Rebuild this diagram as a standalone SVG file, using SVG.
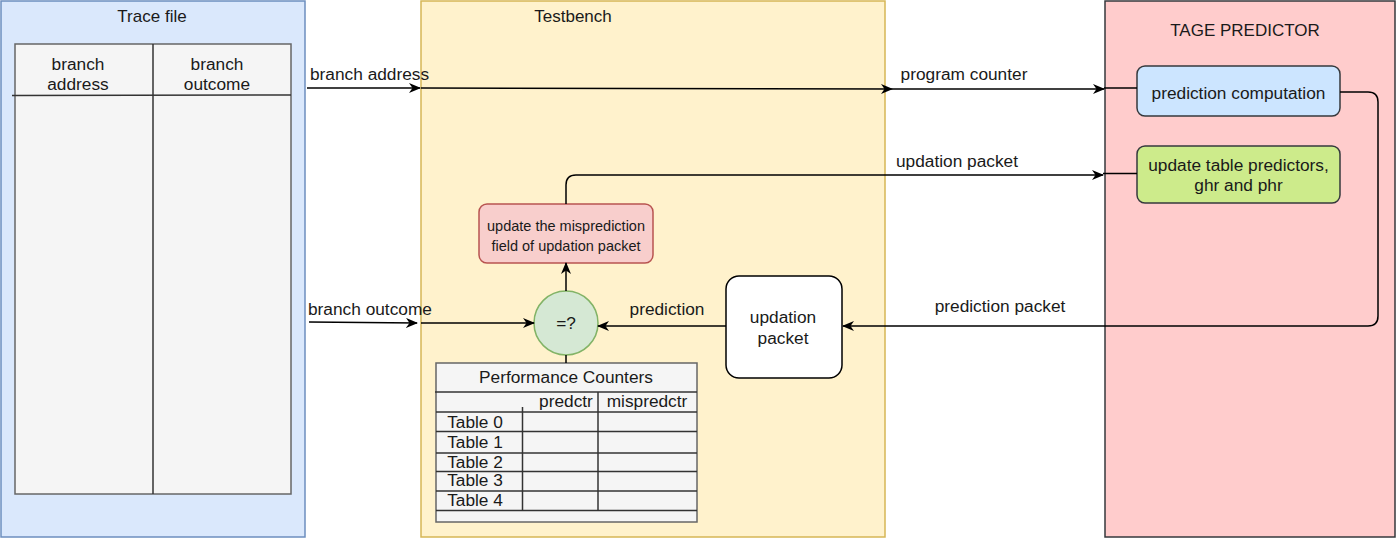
<svg xmlns="http://www.w3.org/2000/svg" width="1397" height="538" viewBox="0 0 1397 538">
<style>
text{font-family:"Liberation Sans",Arial,sans-serif;font-size:17.3px;fill:#1a1a1a}
.c{text-anchor:middle}
.l{text-anchor:start}
.s{font-size:14.5px}
.t{font-size:17px}
.ln{stroke:#000;stroke-width:1.5;fill:none}
.tl{stroke:#333;stroke-width:1.5;fill:none}
</style>
<defs>
<marker id="a" viewBox="0 0 12 10" refX="11" refY="5" markerWidth="12" markerHeight="10" markerUnits="userSpaceOnUse" orient="auto">
<path d="M0,0 L12,5 L0,10 L3.5,5 Z" fill="#000"/>
</marker>
</defs>
<g id="trace">
<rect x="1" y="1" width="304" height="536" fill="#dae8fc" stroke="#6c8ebf" stroke-width="1.5"/>
<text class="c t" x="152" y="22">Trace file</text>
<rect x="15" y="44" width="276" height="450" fill="#f5f5f5" stroke="#666" stroke-width="1.5"/>
<line class="tl" x1="153" y1="44" x2="153" y2="494"/>
<line class="tl" x1="12" y1="95.5" x2="291" y2="95"/>
<text class="c" x="78" y="70">branch</text>
<text class="c" x="78" y="90">address</text>
<text class="c" x="217" y="70">branch</text>
<text class="c" x="217" y="90">outcome</text>
</g>
<g id="testbench">
<rect x="421" y="1" width="464" height="536" fill="#fff2cc" stroke="#d6b656" stroke-width="1.5"/>
<text class="c t" x="573" y="22">Testbench</text>
</g>
<g id="tage">
<rect x="1105" y="1" width="290" height="536" fill="#ffcccc" stroke="#36393d" stroke-width="1.5"/>
<text class="c t" x="1245" y="36">TAGE PREDICTOR</text>
</g>
<g id="predcomp">
<rect x="1137" y="66" width="203" height="50" rx="8" fill="#cce5ff" stroke="#36393d" stroke-width="1.5"/>
<text class="c" x="1238.5" y="99">prediction computation</text>
</g>
<g id="updtable">
<rect x="1137" y="146" width="203" height="57" rx="8" fill="#cdeb8b" stroke="#36393d" stroke-width="1.5"/>
<text class="c" x="1238.5" y="171">update table predictors,</text>
<text class="c" x="1238.5" y="191">ghr and phr</text>
</g>
<g id="mispred">
<rect x="479" y="204" width="174" height="59" rx="8" fill="#f8cecc" stroke="#b85450" stroke-width="1.5"/>
<text class="c s" x="566" y="231">update the misprediction</text>
<text class="c s" x="566" y="251">field of updation packet</text>
</g>
<g id="compare">
<circle cx="566" cy="323" r="32" fill="#d5e8d4" stroke="#82b366" stroke-width="1.5"/>
<text class="c" x="566" y="329">=?</text>
</g>
<g id="updpacket">
<rect x="726" y="276" width="116" height="102" rx="13" fill="#fff" stroke="#000" stroke-width="1.5"/>
<text class="c" x="783" y="323">updation</text>
<text class="c" x="783" y="344">packet</text>
</g>
<g id="perfcounters">
<rect x="436" y="363" width="261" height="159" fill="#f5f5f5" stroke="#666" stroke-width="1.5"/>
<text class="c" x="566" y="383">Performance Counters</text>
<line class="tl" x1="435" y1="392" x2="697" y2="392"/>
<line class="tl" x1="436" y1="412" x2="697" y2="412"/>
<line class="tl" x1="436" y1="431.5" x2="697" y2="431.5"/>
<line class="tl" x1="436" y1="453" x2="697" y2="453"/>
<line class="tl" x1="436" y1="471.5" x2="697" y2="471.5"/>
<line class="tl" x1="436" y1="491" x2="697" y2="491"/>
<line class="tl" x1="436" y1="510.5" x2="697" y2="510.5"/>
<line class="tl" x1="522.5" y1="407" x2="522.5" y2="510.5"/>
<line class="tl" x1="598" y1="392" x2="598" y2="510.5"/>
<text class="c" x="566" y="407">predctr</text>
<text class="c" x="647" y="407">mispredctr</text>
<text class="c" x="475" y="428">Table 0</text>
<text class="c" x="475" y="448">Table 1</text>
<text class="c" x="475" y="468">Table 2</text>
<text class="c" x="475" y="486">Table 3</text>
<text class="c" x="475" y="506">Table 4</text>
</g>
<g id="connectors">
<line class="ln" x1="307" y1="88" x2="420" y2="88" marker-end="url(#a)"/>
<line class="ln" x1="421" y1="88" x2="892" y2="89" marker-end="url(#a)"/>
<line class="ln" x1="892" y1="89" x2="1104" y2="89" marker-end="url(#a)"/>
<line class="ln" x1="1104" y1="88" x2="1137" y2="88"/>
<path class="ln" d="M566,204 V185 Q566,175 576,175 H1103" marker-end="url(#a)"/>
<line class="ln" x1="1103" y1="173.5" x2="1137" y2="173.5"/>
<line class="ln" x1="566" y1="291" x2="566" y2="263" marker-end="url(#a)"/>
<line class="ln" x1="566" y1="355" x2="566" y2="363"/>
<line class="ln" x1="309" y1="322" x2="417" y2="323" marker-end="url(#a)"/>
<line class="ln" x1="421" y1="323" x2="534" y2="323" marker-end="url(#a)"/>
<line class="ln" x1="726" y1="326" x2="598" y2="326" marker-end="url(#a)"/>
<path class="ln" d="M1340,92 H1368 Q1378,92 1378,102 V316 Q1378,326 1368,326 H843" marker-end="url(#a)"/>
<text class="l" x="310" y="80">branch address</text>
<text class="c" x="964" y="80">program counter</text>
<text class="c" x="957" y="167">updation packet</text>
<text class="l" x="308" y="315">branch outcome</text>
<text class="c" x="667" y="315">prediction</text>
<text class="c" x="1000" y="312">prediction packet</text>
</g>
</svg>
